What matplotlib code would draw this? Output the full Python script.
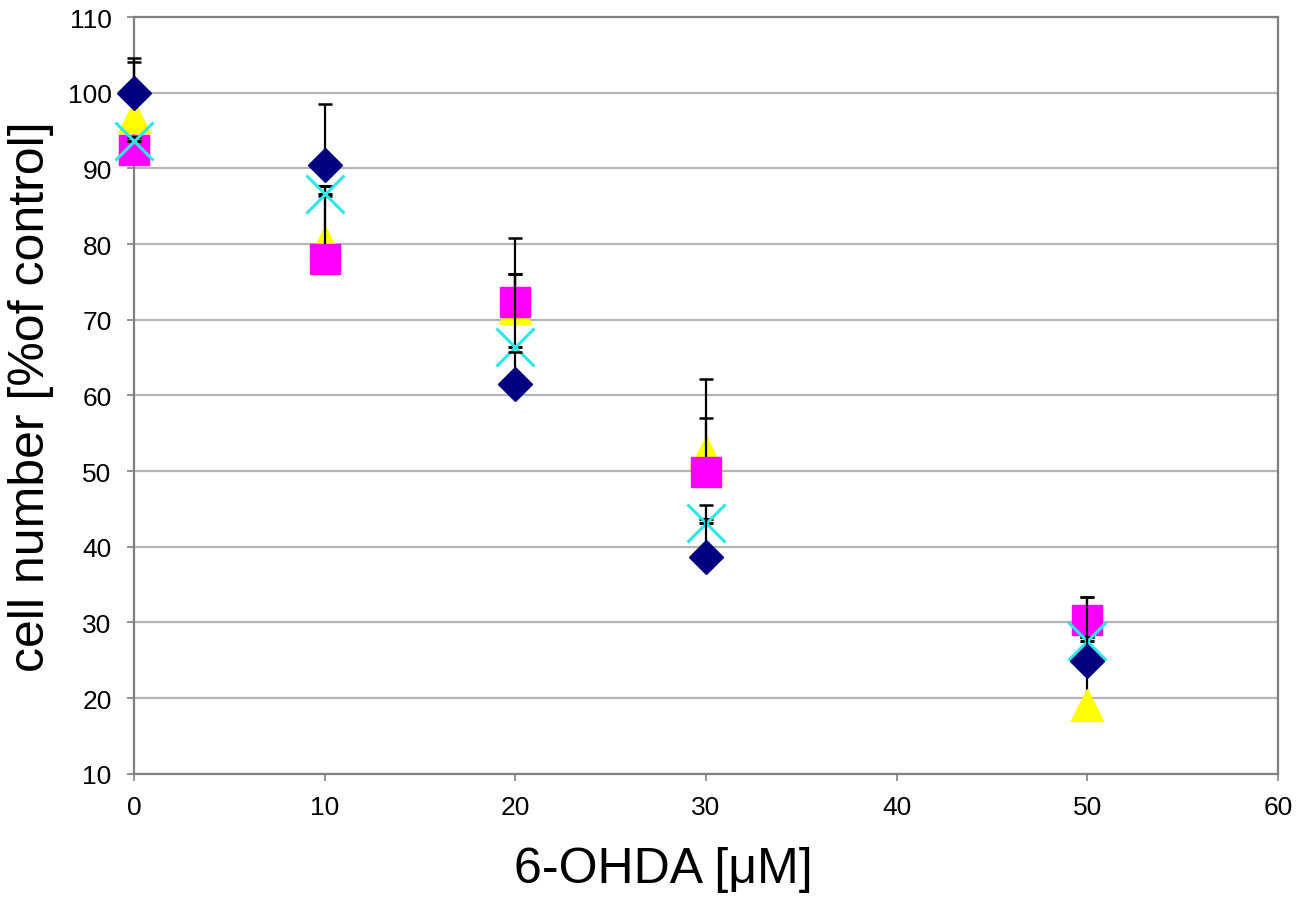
import numpy as np
import matplotlib.pyplot as plt

plt.rcParams['font.family'] = ['Liberation Sans', 'DejaVu Sans']

# 6-OHDA concentration (uM)
dose = [0, 10, 20, 30, 50]

# four series, values (% of control)
diamond = [100.0, 90.4, 61.5, 38.7, 24.9]
diamond_err = [4.6, 8.1, 4.2, 6.8, 8.5]

square = [92.4, 78.0, 72.3, 49.9, 30.3]
square_err = [1.9, 8.4, 8.5, 7.1, 3.0]

triangle = [96.8, 80.3, 71.5, 52.5, 19.1]
triangle_err = [7.3, 7.4, 4.5, 9.7, 9.0]

cross = [93.6, 86.6, 66.4, 43.2, 27.6]
cross_err = [0.5, 1.1, 9.6, 0.5, 0.5]

fig, ax = plt.subplots(figsize=(13, 9.03), dpi=100)
fig.subplots_adjust(left=0.103, right=0.983, top=0.980, bottom=0.142)

err_kw = dict(ecolor='black', elinewidth=1.6, capsize=4.7, capthick=1.8, linestyle='none')


def plus_errorbar(y, err, fmt, color, size, z, **kw):
    # only "plus" error bars, like the original
    res = ax.errorbar(dose, y, yerr=[np.zeros(len(err)), err], fmt=fmt, color=color,
                      markersize=size, zorder=z, **kw, **err_kw)
    for artist in res.lines[0:1] + res.lines[1] + res.lines[2]:
        artist.set_clip_on(False)
    return res


# draw order: triangle, square, cross, diamond on top
plus_errorbar(triangle, triangle_err, '^', '#ffff00', 23, 3, markeredgecolor='#ffff00')
plus_errorbar(square, square_err, 's', '#ff00ff', 21, 4, markeredgecolor='#ff00ff')
plus_errorbar(cross, cross_err, 'x', '#2ee8e8', 27, 5, markeredgewidth=2.2)
plus_errorbar(diamond, diamond_err, 'D', '#000080', 17, 6, markeredgecolor='#000080')

ax.set_xlim(0, 60)
ax.set_ylim(10, 110)
ax.set_xticks(np.arange(0, 61, 10))
ax.set_yticks(np.arange(10, 111, 10))
ax.yaxis.grid(True, color='#b4b4b4', linewidth=1.6)
ax.set_axisbelow(True)

for side in ['top', 'right', 'left', 'bottom']:
    ax.spines[side].set_color('#7f7f7f')
    ax.spines[side].set_linewidth(1.6)

ax.tick_params(axis='both', direction='out', length=5, width=1.2, color='#7f7f7f',
               labelsize=19)
ax.tick_params(axis='y', pad=11)
ax.tick_params(axis='x', pad=10)

ax.set_xlabel('6-OHDA [μM]', fontsize=36)
ax.xaxis.set_label_coords(0.463, -0.096)
ax.set_ylabel('cell number [%of control]', fontsize=36, labelpad=10)

fig.savefig('out.png', dpi=100, facecolor='white')
